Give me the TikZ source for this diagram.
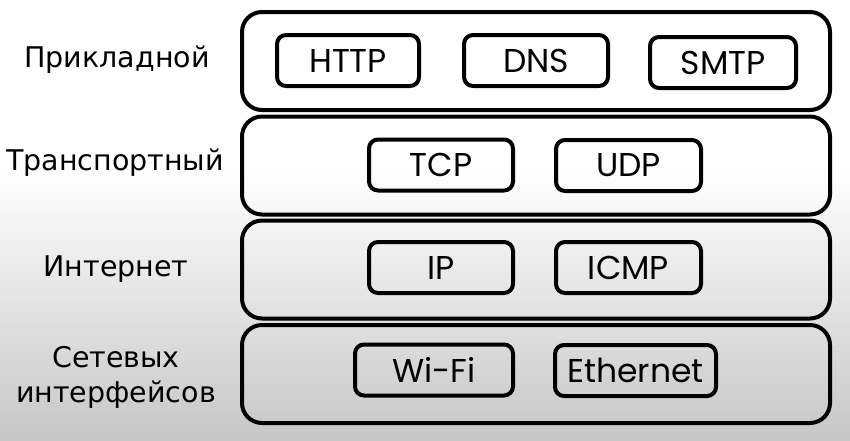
\documentclass[tikz,border=0pt]{standalone}
\usepackage{fontspec}
\setmainfont{Poppins}
\newfontfamily\labfont{DejaVu Sans}
\begin{document}
\begin{tikzpicture}[x=1pt,y=-1pt,
  layerbox/.style={draw=black,line width=4pt,rounded corners=20pt,minimum width=588pt,minimum height=98pt,inner sep=0pt},
  protobox/.style={draw=black,line width=4pt,rounded corners=9pt,minimum height=51pt,inner sep=0pt,font=\fontsize{33}{38}\selectfont},
  lab/.style={font=\labfont\fontsize{28.5}{35}\selectfont,align=center,inner sep=0pt}]
\fill[white] (0,0) rectangle (850,170);
\shade[top color=white,bottom color=black!22] (0,169) rectangle (850,440);
\useasboundingbox (0,0) rectangle (850,440);
\node[layerbox] (app) at (536,61) {};
\node[layerbox] (tr) at (536,165.5) {};
\node[layerbox] (inet) at (536,269.5) {};
\node[layerbox] (link) at (536,374) {};
\node[protobox,minimum width=142pt] (http) at (348,60.5) {HTTP};
\node[protobox,minimum width=144pt] (dns) at (536,60.5) {DNS};
\node[protobox,minimum width=146pt] (smtp) at (723,62.5) {SMTP};
\node[protobox,minimum width=144pt] (tcp) at (441,165) {TCP};
\node[protobox,minimum width=145pt] (udp) at (628.5,165.5) {UDP};
\node[protobox,minimum width=144pt] (ip) at (441,267.5) {IP};
\node[protobox,minimum width=145pt] (icmp) at (628.5,267.5) {ICMP};
\node[protobox,minimum width=158pt] (wifi) at (434,370) {Wi-Fi};
\node[protobox,minimum width=161pt] (eth) at (635.5,370.5) {Ethernet};
\node[lab] (l1) at (117,60) {Прикладной};
\node[lab] (l2) at (115,163) {Транспортный};
\node[lab] (l3) at (116,269) {Интернет};
\node[lab] (l4) at (116,377) {Сетевых\\интерфейсов};
\end{tikzpicture}
\end{document}
